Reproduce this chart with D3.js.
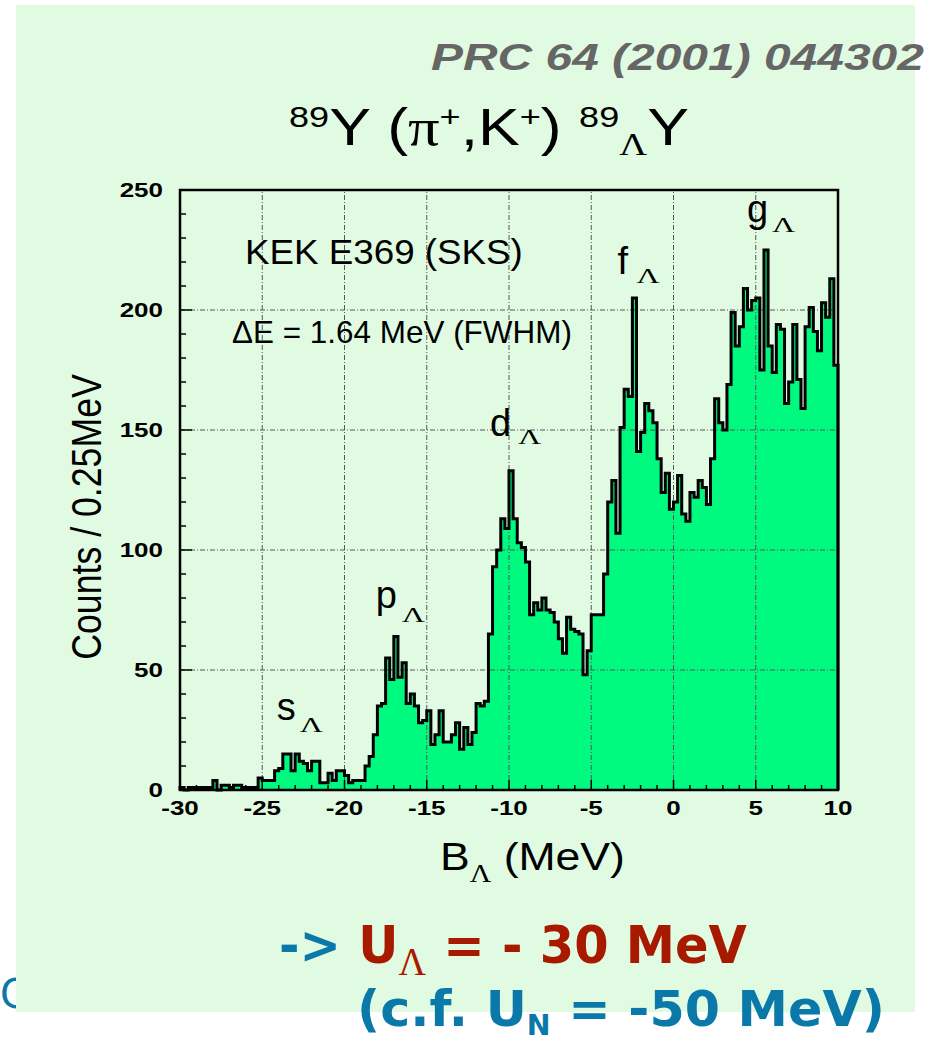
<!DOCTYPE html>
<html>
<head>
<meta charset="utf-8">
<script src="https://cdn.jsdelivr.net/npm/d3@7"></script>
<style>
  body { margin: 0; background: #fff; }
  svg { display: block; }
</style>
</head>
<body>
<svg width="941" height="1037"></svg>
<script>
// histogram: 0.25 MeV bins from -30 to 10 MeV
const binLo = -30, binW = 0.25;
const countsA = [1,0,1,1,1,1,1,1,4,0,2,2,1,2,2,1,1,1,1,5,4,4,4,8,9,15,15,8,15,12,11,8,12,12,3,3,7,4,8,8];
const countsB = [6,3,4,4,4,10,14,23,35,36,55,46,64,47,53,36,40,35,28,29,33,19,23,33,20,20,23,28,17,26,19,24,36,35,37,65,93,100,113,109];
const countsC = [133,113,103,101,95,73,78,75,80,75,74,70,63,57,72,67,66,65,48,58,73,73,73,90,120,129,107,151,167,164,205,141,149,161,158,153,138,124,132,117];
const countsD = [120,131,115,112,124,122,129,126,119,138,163,153,150,169,199,185,193,209,200,204,205,175,225,185,174,194,192,161,170,194,171,159,193,201,191,183,203,197,213,177];
const counts = countsA.concat(countsB, countsC, countsD);

const xTicks = [-30,-25,-20,-15,-10,-5,0,5,10];
const yTicks = [0,50,100,150,200,250];
const peaks = [
  {name: 's', at: -23.75, count: 15},
  {name: 'p', at: -17,    count: 64},
  {name: 'd', at: -10,    count: 133},
  {name: 'f', at: -2.5,   count: 205},
  {name: 'g', at: 5.5,    count: 225}
];

const svg = d3.select('svg');
const blue = '#0a78a8', red = '#a81a00';

// stretch a text horizontally so that it is w pixels wide, left edge at x
function put(parent, x, y, w, build) {
  const g = parent.append('g');
  const t = g.append('text').attr('x', 0).attr('y', 0);
  build(t);
  const bb = t.node().getBBox();
  const s = w / bb.width;
  g.attr('transform', `translate(${x - bb.x * s},${y}) scale(${s},1)`);
  return g;
}

// partly hidden letter behind the panel
svg.append('text').attr('x', 0).attr('y', 1008)
  .attr('font-family', 'DejaVu Sans').attr('font-size', 40)
  .attr('fill', blue).text('C');

// panel
svg.append('rect').attr('x', 16).attr('y', 5).attr('width', 899).attr('height', 1007)
  .attr('fill', '#e1fbe2');

// reference
put(svg, 431, 70, 493, t => t
  .attr('font-family', 'Liberation Sans').attr('font-weight', 'bold').attr('font-style', 'italic')
  .attr('font-size', 36).attr('fill', '#666').text('PRC 64 (2001) 044302'));

// title
put(svg, 289, 145, 400, t => {
  t.attr('font-family', 'Liberation Sans').attr('font-size', 52).attr('fill', '#000');
  t.append('tspan').attr('font-size', 30).attr('dy', -18).text('89');
  t.append('tspan').attr('dy', 18).text('Y (');
  t.append('tspan').attr('font-family', 'Liberation Serif').text('π');
  t.append('tspan').attr('font-size', 30).attr('dy', -18).text('+');
  t.append('tspan').attr('dy', 18).text(',K');
  t.append('tspan').attr('font-size', 30).attr('dy', -18).text('+');
  t.append('tspan').attr('dy', 18).text(') ');
  t.append('tspan').attr('font-size', 30).attr('dy', -18).text('89');
  t.append('tspan').attr('font-family', 'Liberation Serif').attr('font-size', 32).attr('dy', 28).text('Λ');
  t.append('tspan').attr('dy', -10).text('Y');
});

// plot
const x = d3.scaleLinear().domain([-30, 10]).range([180, 838]);
const y = d3.scaleLinear().domain([0, 250]).range([790, 190]);

const pts = counts.map((c, i) => [binLo + i * binW, c]);
pts.push([10, counts[counts.length - 1]]);

svg.append('path')
  .datum(pts)
  .attr('fill', '#00fa80')
  .attr('d', d3.area().x(d => x(d[0])).y0(y(0)).y1(d => y(d[1])).curve(d3.curveStepAfter));

// grid
const grid = svg.append('g').attr('stroke', '#555').attr('stroke-width', 1)
  .attr('stroke-dasharray', '5,2,1,2');
grid.selectAll('.gx').data(xTicks.slice(1, -1)).join('line')
  .attr('x1', d => x(d)).attr('x2', d => x(d)).attr('y1', y(0)).attr('y2', y(250));
grid.selectAll('.gy').data(yTicks.slice(1, -1)).join('line')
  .attr('y1', d => y(d)).attr('y2', d => y(d)).attr('x1', x(-30)).attr('x2', x(10));

// outline
svg.append('path')
  .datum([[-30, 0]].concat(pts, [[10, 0]]))
  .attr('fill', 'none').attr('stroke', '#000').attr('stroke-width', 3)
  .attr('d', d3.line().x(d => x(d[0])).y(d => y(d[1])).curve(d3.curveStepAfter));

// frame and ticks
svg.append('rect').attr('x', x(-30)).attr('y', y(250))
  .attr('width', x(10) - x(-30)).attr('height', y(0) - y(250))
  .attr('fill', 'none').attr('stroke', '#000').attr('stroke-width', 2.5);

const ticks = svg.append('g').attr('stroke', '#000').attr('stroke-width', 1.5);
ticks.selectAll('.tx').data(d3.range(-29, 10)).join('line')
  .attr('x1', d => x(d)).attr('x2', d => x(d))
  .attr('y1', y(0)).attr('y2', d => y(0) - (d % 5 === 0 ? 10 : 5));
ticks.selectAll('.ty').data(d3.range(10, 250, 10)).join('line')
  .attr('y1', d => y(d)).attr('y2', d => y(d))
  .attr('x1', x(-30)).attr('x2', d => x(-30) + (d % 50 === 0 ? 12 : 6));

// tick labels
svg.append('g').selectAll('text').data(xTicks).join('text')
  .attr('transform', d => `translate(${x(d)},815) scale(1.3,1)`)
  .attr('text-anchor', 'middle')
  .attr('font-family', 'Liberation Sans').attr('font-weight', 'bold').attr('font-size', 20)
  .text(d => d);
svg.append('g').selectAll('text').data(yTicks).join('text')
  .attr('transform', d => `translate(163,${y(d) + 7}) scale(1.3,1)`)
  .attr('text-anchor', 'end')
  .attr('font-family', 'Liberation Sans').attr('font-weight', 'bold').attr('font-size', 20)
  .text(d => d);

// axis titles
svg.append('text')
  .attr('transform', 'translate(101,517) rotate(-90) scale(0.83,1)')
  .attr('text-anchor', 'middle')
  .attr('font-family', 'Liberation Sans').attr('font-size', 43)
  .text('Counts / 0.25MeV');

put(svg, 440, 870, 185, t => {
  t.attr('font-family', 'Liberation Sans').attr('font-size', 39);
  t.append('tspan').text('B');
  t.append('tspan').attr('font-family', 'Liberation Serif').attr('font-size', 26).attr('dy', 12).text('Λ');
  t.append('tspan').attr('dy', -12).text(' (MeV)');
});

// annotations
put(svg, 245, 264, 278, t => t.attr('font-family', 'Liberation Sans').attr('font-size', 35).text('KEK E369 (SKS)'));
put(svg, 232, 343, 340, t => t.attr('font-family', 'Liberation Sans').attr('font-size', 32).text('ΔE = 1.64 MeV (FWHM)'));

// peak labels, placed above each peak: [dx letter, letter lift, dx lambda, lambda lift]
const peakOffset = {
  s: [-6, 34, 23, 22],
  p: [-18, 28, 26, 14],
  d: [-19, 35, 28, 27],
  f: [-15, 24, 19, 15],
  g: [-17, 28, 25, 18]
};
peaks.forEach(p => {
  const o = peakOffset[p.name];
  const px = x(p.at) + o[0];
  svg.append('text').attr('x', px).attr('y', y(p.count) - o[1])
    .attr('font-family', 'Liberation Sans').attr('font-size', 38).text(p.name);
  put(svg, px + o[2], y(p.count) - o[3], 24, t => t
    .attr('font-family', 'Liberation Serif').attr('font-size', 20).text('Λ'));
});

// conclusion
put(svg, 279, 963, 468, t => {
  t.attr('font-family', 'DejaVu Sans').attr('font-weight', 'bold').attr('font-size', 52);
  t.append('tspan').attr('fill', blue).text('-> ');
  t.append('tspan').attr('fill', red).text('U');
  t.append('tspan').attr('fill', red).attr('font-family', 'Liberation Serif').attr('font-weight', 'normal')
    .attr('font-size', 40).attr('dy', 12).text('Λ');
  t.append('tspan').attr('fill', red).attr('dy', -12).text(' = - 30 MeV');
});
put(svg, 357, 1026, 528, t => {
  t.attr('font-family', 'DejaVu Sans').attr('font-weight', 'bold').attr('font-size', 50).attr('fill', blue);
  t.append('tspan').text('(c.f. U');
  t.append('tspan').attr('font-size', 28).attr('dy', 9).text('N');
  t.append('tspan').attr('dy', -9).text(' = -50 MeV)');
});
</script>
</body>
</html>
